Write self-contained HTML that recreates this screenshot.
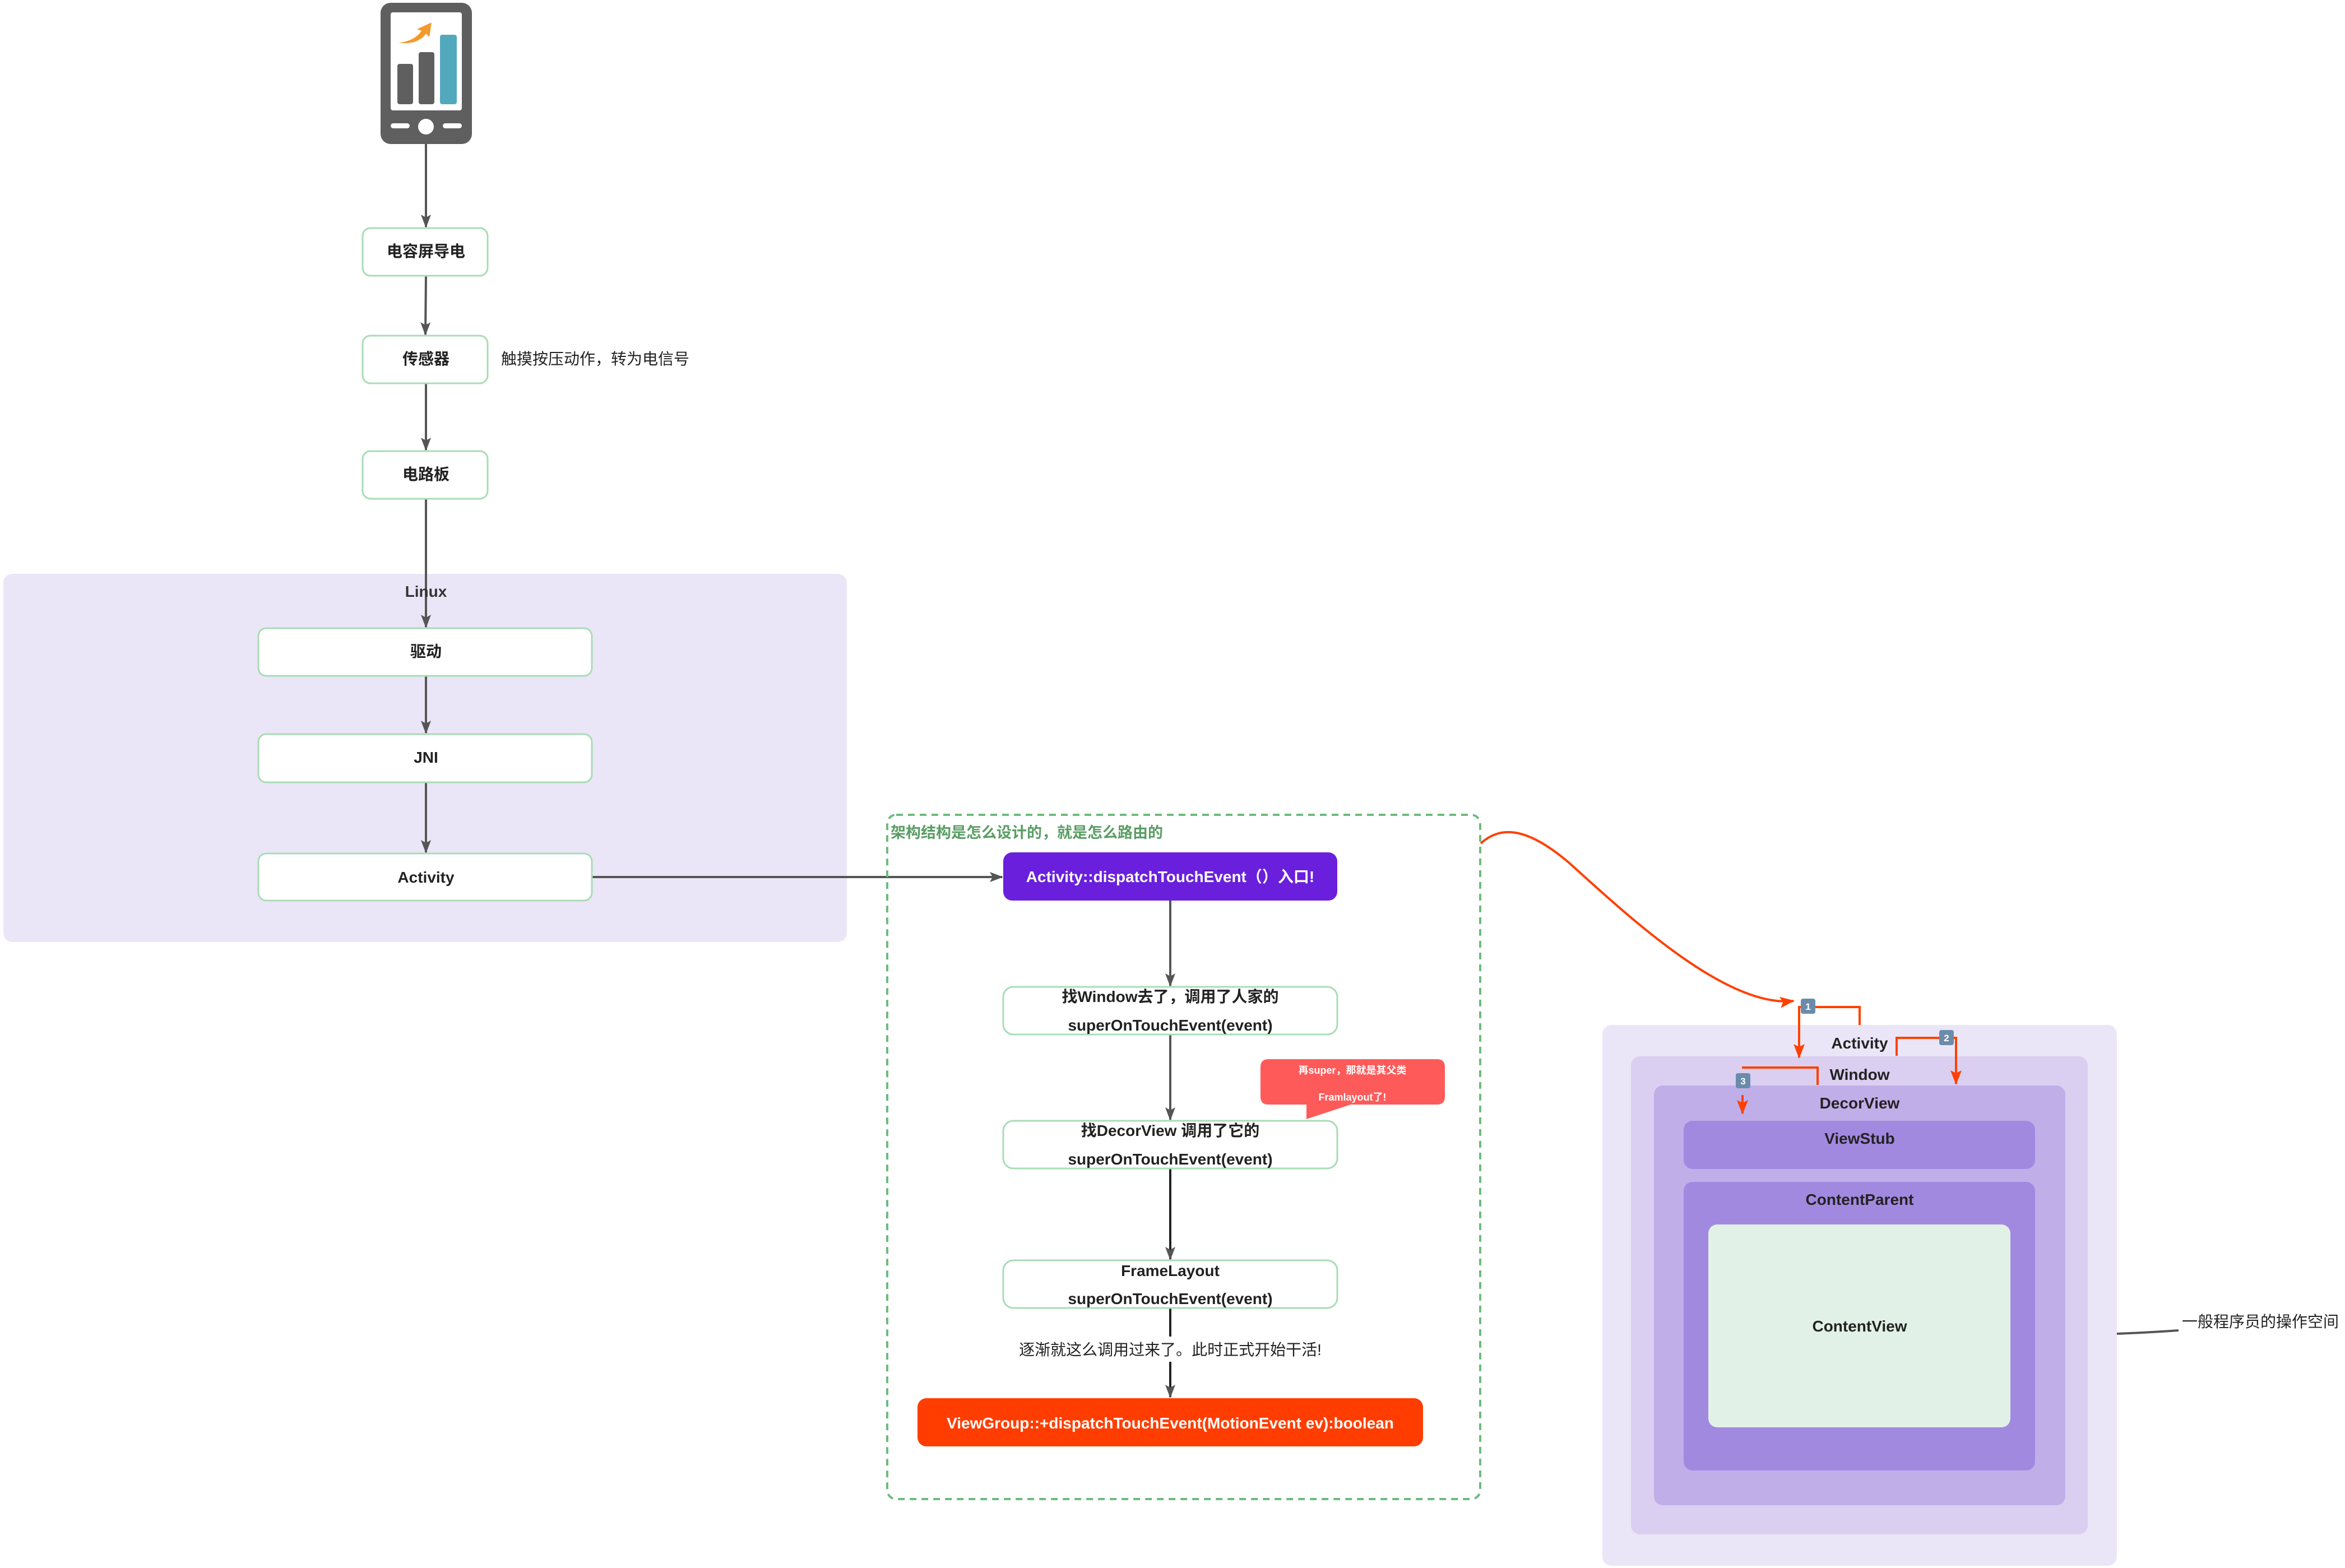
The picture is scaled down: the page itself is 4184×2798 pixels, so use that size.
<!DOCTYPE html>
<html><head><meta charset="utf-8"><style>
html,body{margin:0;padding:0;background:#fff;}
svg{display:block;}
text{font-family:"Liberation Sans","Noto Sans CJK SC",sans-serif;}
</style></head><body>
<svg width="4184" height="2798" viewBox="0 0 4184 2798" xmlns="http://www.w3.org/2000/svg">
<defs>
<marker id="ag" markerWidth="24" markerHeight="18" refX="22" refY="9" orient="auto" markerUnits="userSpaceOnUse" viewBox="0 0 24 18"><path d="M0,0 L24,9 L0,18 L5,9 Z" fill="#555"/></marker>
<marker id="ar" markerWidth="26" markerHeight="20" refX="24" refY="10" orient="auto" markerUnits="userSpaceOnUse" viewBox="0 0 26 20"><path d="M0,0 L26,10 L0,20 L5,10 Z" fill="#ff4000"/></marker>
</defs>

<!-- phone icon -->
<rect x="679" y="5" width="163" height="252" rx="18" fill="#5f5f5f"/>
<rect x="697" y="22" width="127" height="175" rx="4" fill="#fff"/>
<rect x="709" y="114" width="28" height="72" rx="4" fill="#5f5f5f"/>
<rect x="747" y="93" width="28" height="93" rx="4" fill="#5f5f5f"/>
<rect x="785" y="62" width="30" height="124" rx="4" fill="#53a9bc"/>
<path d="M711,76 C730,75 745,66 752,55 L744,52 L770,40 L766,66 L760,60 C752,72 735,80 711,76 Z" fill="#f39a2e"/>
<rect x="697" y="220" width="34" height="9" rx="4.5" fill="#fff"/>
<circle cx="760" cy="226" r="14" fill="#fff"/>
<rect x="790" y="220" width="34" height="9" rx="4.5" fill="#fff"/>

<!-- Linux region -->
<rect x="6" y="1024" width="1505" height="657" rx="16" fill="#ebe6f7"/>

<!-- vertical connectors -->
<g stroke="#555" stroke-width="4" fill="none" marker-end="url(#ag)">
<line x1="760" y1="257" x2="760" y2="405"/>
<line x1="760" y1="492" x2="759" y2="597"/>
<line x1="760" y1="684" x2="760" y2="803"/>
<line x1="760" y1="890" x2="760" y2="1119"/>
<line x1="760" y1="1206" x2="760" y2="1308"/>
<line x1="760" y1="1396" x2="760" y2="1521"/>
<line x1="1056" y1="1565" x2="1788" y2="1565"/>
<line x1="2088" y1="1607" x2="2088" y2="1759"/>
<line x1="2088" y1="1846" x2="2088" y2="1998"/>
</g>
<g stroke="#222" stroke-width="4" fill="none">
<line x1="2088" y1="2085" x2="2088" y2="2247" marker-end="url(#ag)"/>
<line x1="2088" y1="2334" x2="2088" y2="2385"/>
<line x1="2088" y1="2430" x2="2088" y2="2493" marker-end="url(#ag)"/>
</g>

<!-- left boxes -->
<g fill="#fff" stroke="#a9dcb6" stroke-width="3">
<rect x="647" y="407" width="223" height="85" rx="14"/>
<rect x="647" y="599" width="223" height="85" rx="14"/>
<rect x="647" y="805" width="223" height="85" rx="14"/>
<rect x="461" y="1121" width="595" height="85" rx="14"/>
<rect x="461" y="1310" width="595" height="86" rx="14"/>
<rect x="461" y="1523" width="595" height="84" rx="14"/>
</g>
<g font-weight="bold" font-size="28" fill="#222" text-anchor="middle">
<text x="760" y="458">电容屏导电</text>
<text x="760" y="650">传感器</text>
<text x="760" y="856">电路板</text>
<text x="760" y="1065" fill="#333">Linux</text>
<text x="760" y="1172">驱动</text>
<text x="760" y="1361">JNI</text>
<text x="760" y="1575">Activity</text>
</g>
<text x="894" y="650" font-size="28" fill="#222">触摸按压动作，转为电信号</text>

<!-- dashed frame -->
<rect x="1583" y="1454" width="1058" height="1221" rx="16" fill="none" stroke="#6dbb7c" stroke-width="4" stroke-dasharray="12,9"/>
<text x="1589" y="1495" font-size="27" font-weight="bold" fill="#5a9e64">架构结构是怎么设计的，就是怎么路由的</text>

<rect x="1790" y="1521" width="596" height="86" rx="16" fill="#6a1fdc"/>
<text x="2088" y="1574" font-size="28" font-weight="bold" fill="#fff" text-anchor="middle">Activity::dispatchTouchEvent（）入口!</text>

<g fill="#fff" stroke="#a9dcb6" stroke-width="3">
<rect x="1790" y="1761" width="596" height="85" rx="18"/>
<rect x="1790" y="2000" width="596" height="85" rx="18"/>
<rect x="1790" y="2249" width="596" height="85" rx="18"/>
</g>
<g font-size="28" font-weight="bold" fill="#222" text-anchor="middle">
<text x="2088" y="1788">找Window去了，调用了人家的</text>
<text x="2088" y="1839">superOnTouchEvent(event)</text>
<text x="2088" y="2027">找DecorView 调用了它的</text>
<text x="2088" y="2078">superOnTouchEvent(event)</text>
<text x="2088" y="2277">FrameLayout</text>
<text x="2088" y="2327">superOnTouchEvent(event)</text>
</g>

<!-- callout -->
<path d="M2263,1890 H2564 Q2578,1890 2578,1904 V1957 Q2578,1971 2564,1971 H2410 L2331,1997 V1971 H2263 Q2249,1971 2249,1957 V1904 Q2249,1890 2263,1890 Z" fill="#ff5a5a"/>
<text x="2413" y="1916" font-size="18" font-weight="bold" fill="#fff" text-anchor="middle">再super，那就是其父类</text>
<text x="2413" y="1964" font-size="18" font-weight="bold" fill="#fff" text-anchor="middle">Framlayout了!</text>

<text x="2088" y="2418" font-size="28" fill="#222" text-anchor="middle">逐渐就这么调用过来了。此时正式开始干活!</text>

<rect x="1637" y="2495" width="902" height="86" rx="16" fill="#ff3d00"/>
<text x="2088" y="2549" font-size="28" font-weight="bold" fill="#fff" text-anchor="middle">ViewGroup::+dispatchTouchEvent(MotionEvent ev):boolean</text>

<!-- nested boxes -->
<rect x="2859" y="1829" width="918" height="965" rx="16" fill="#ebe6f7"/>
<rect x="2910" y="1885" width="815" height="853" rx="16" fill="#dacff1"/>
<rect x="2951" y="1937" width="734" height="749" rx="16" fill="#c0aee9"/>
<rect x="3004" y="2000" width="627" height="86" rx="16" fill="#a289e0"/>
<rect x="3004" y="2109" width="627" height="515" rx="16" fill="#a289e0"/>
<rect x="3048" y="2185" width="539" height="362" rx="16" fill="#e2f1e7"/>
<g font-size="28" font-weight="bold" fill="#222" text-anchor="middle">
<text x="3318" y="1871">Activity</text>
<text x="3318" y="1927">Window</text>
<text x="3318" y="1978">DecorView</text>
<text x="3318" y="2041">ViewStub</text>
<text x="3318" y="2150">ContentParent</text>
<text x="3318" y="2376">ContentView</text>
</g>

<!-- red connectors -->
<g stroke="#ff4000" stroke-width="4" fill="none">
<path d="M2642,1505 C2680,1470 2730,1480 2800,1540 C2900,1630 3080,1800 3200,1786" marker-end="url(#ar)"/>
<path d="M3318,1829 V1797 H3210 V1887" marker-end="url(#ar)"/>
<path d="M3384,1884 V1852 H3490 V1934" marker-end="url(#ar)"/>
<path d="M3243,1936 V1905 H3108"/>
<path d="M3109,1954 V1987" marker-end="url(#ar)"/>
</g>
<g font-size="17" font-weight="bold" fill="#fff" text-anchor="middle">
<rect x="3213" y="1782" width="26" height="27" rx="4" fill="#6b8bab"/><text x="3226" y="1802">1</text>
<rect x="3460" y="1838" width="26" height="27" rx="4" fill="#6b8bab"/><text x="3473" y="1858">2</text>
<rect x="3097" y="1915" width="26" height="27" rx="4" fill="#6b8bab"/><text x="3110" y="1935">3</text>
</g>

<path d="M3777,2380 Q3830,2378 3887,2374" stroke="#555" stroke-width="4" fill="none"/>
<text x="3893" y="2368" font-size="28" fill="#222">一般程序员的操作空间</text>
</svg>
</body></html>
